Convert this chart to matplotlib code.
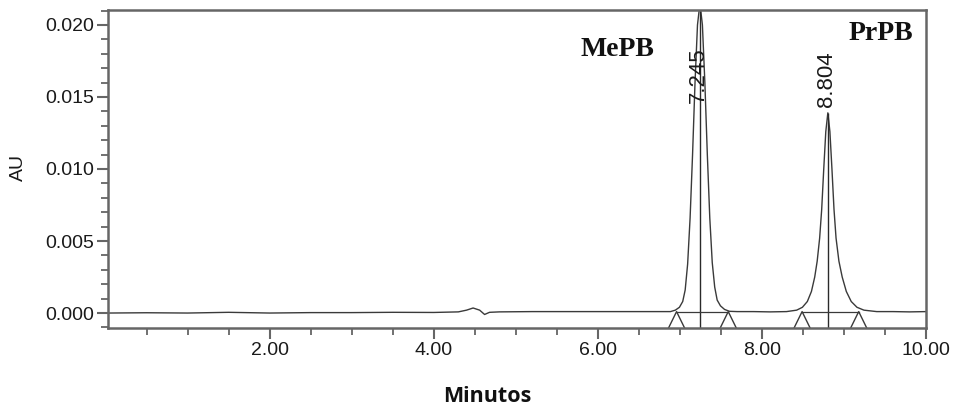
import numpy as np
import matplotlib
matplotlib.use('Agg')
import matplotlib.pyplot as plt
from matplotlib.ticker import MultipleLocator, FormatStrFormatter

# baseline before the peaks (minutes, AU)
base_t = [0.03, 0.5, 1.0, 1.5, 2.0, 2.5, 3.0, 3.5, 4.0, 4.3, 4.4, 4.48, 4.56,
          4.62, 4.68, 4.8, 5.2, 5.6, 6.0, 6.4, 6.8]
base_au = [0.0, 0.00002, 0.0, 0.00005, 0.0, 0.00003, 0.00003, 0.00005, 0.00004,
           0.00008, 0.0002, 0.00035, 0.0002, -0.0001, 0.00005, 0.00008, 0.0001,
           0.0001, 0.0001, 0.0001, 0.0001]

# MePB peak
peak1_t = [6.885, 6.945, 6.995, 7.035, 7.065, 7.095, 7.125, 7.155, 7.185, 7.215,
           7.245, 7.275, 7.305, 7.335, 7.365, 7.395, 7.425, 7.455, 7.495, 7.545,
           7.605, 7.70]
peak1_au = [0.0001, 0.0002, 0.0004, 0.0008, 0.0016, 0.0034, 0.0066, 0.0110, 0.0160,
            0.0200, 0.0215, 0.0200, 0.0160, 0.0110, 0.0066, 0.0035, 0.0018, 0.0009,
            0.0005, 0.00025, 0.00012, 0.0001]

# between peaks
mid_t = [7.9, 8.1, 8.3]
mid_au = [0.0001, 0.00008, 0.0001]

# PrPB peak
peak2_t = [8.424, 8.494, 8.554, 8.604, 8.644, 8.674, 8.704, 8.729, 8.754, 8.779,
           8.804, 8.829, 8.854, 8.879, 8.904, 8.939, 8.979, 9.029, 9.089, 9.159,
           9.244]
peak2_au = [0.0002, 0.0004, 0.0008, 0.0015, 0.0025, 0.0036, 0.0052, 0.0072, 0.0100,
            0.0126, 0.0139, 0.0126, 0.0100, 0.0072, 0.0052, 0.0036, 0.0025, 0.0015,
            0.0008, 0.0004, 0.0002]

# baseline after the peaks
end_t = [9.4, 9.6, 9.8, 10.0]
end_au = [0.0001, 0.0001, 0.00008, 0.0001]

# peak retention times, apexes and integration limits
ret_times = [7.245, 8.804]
ret_labels = ['7.245', '8.804']
apex_au = [0.021, 0.0139]
label_au = [0.0146, 0.0143]
limits_t = [6.96, 7.59, 8.49, 9.18]

t = np.concatenate([base_t, peak1_t, mid_t, peak2_t, end_t])
au = np.concatenate([base_au, peak1_au, mid_au, peak2_au, end_au])

ymin, ymax = -0.00104, 0.02104
spine_col = '#666666'
line_col = '#3a3a3a'

fig = plt.figure(figsize=(9.55, 4.09), dpi=100)
ax = fig.add_axes([0.1131, 0.198, 0.8565, 0.7776])

ax.plot(t, au, color=line_col, lw=1.0)

# retention time markers and labels
for rt, top, lab, ly in zip(ret_times, apex_au, ret_labels, label_au):
    ax.vlines(rt, ymin, top, color='#2a2a2a', lw=1.0)
    ax.text(rt - 0.02, ly, lab, rotation=90, ha='center', va='bottom',
            fontsize=16, color='#1a1a1a', family='Liberation Sans')

# integration baselines and start/end triangles
for a, b in [(limits_t[0], limits_t[1]), (limits_t[2], limits_t[3])]:
    ax.plot([a, b], [0.0001, 0.0001], color=line_col, lw=0.9)
for lt in limits_t:
    ax.plot([lt - 0.098, lt, lt + 0.098], [ymin, 0.0001, ymin], color=line_col, lw=1.0)

ax.text(6.24, 0.0183, 'MePB', fontsize=20, fontweight='bold',
        family='Liberation Serif', ha='center', va='center', color='#111111')
ax.text(9.45, 0.0194, 'PrPB', fontsize=20, fontweight='bold',
        family='Liberation Serif', ha='center', va='center', color='#111111')

ax.set_xlim(0.03, 10.0)
ax.set_ylim(ymin, ymax)
ax.xaxis.set_major_locator(MultipleLocator(2))
ax.xaxis.set_minor_locator(MultipleLocator(0.5))
ax.yaxis.set_major_locator(MultipleLocator(0.005))
ax.yaxis.set_minor_locator(MultipleLocator(0.001))
ax.xaxis.set_major_formatter(FormatStrFormatter('%.2f'))
ax.yaxis.set_major_formatter(FormatStrFormatter('%.3f'))
ax.set_xticks([2, 4, 6, 8, 10])

for s in ax.spines.values():
    s.set_color(spine_col)
    s.set_linewidth(1.8)
ax.tick_params(which='major', length=8, width=1.5, color=spine_col,
               labelsize=14, labelcolor='#1a1a1a', pad=2)
ax.tick_params(which='minor', length=5, width=1.3, color=spine_col)
for lab in ax.get_xticklabels() + ax.get_yticklabels():
    lab.set_family('Liberation Sans')

fig.text(18 / 955, 1 - 167 / 409, 'AU', rotation=90, ha='center', va='center',
         fontsize=14, color='#1a1a1a', family='Liberation Sans')
fig.text(487 / 955, 1 - 397 / 409, 'Minutos', ha='center', va='center',
         fontsize=15.5, fontweight='bold', family='Open Sans', color='#111111')

fig.savefig('out.png', dpi=100)
